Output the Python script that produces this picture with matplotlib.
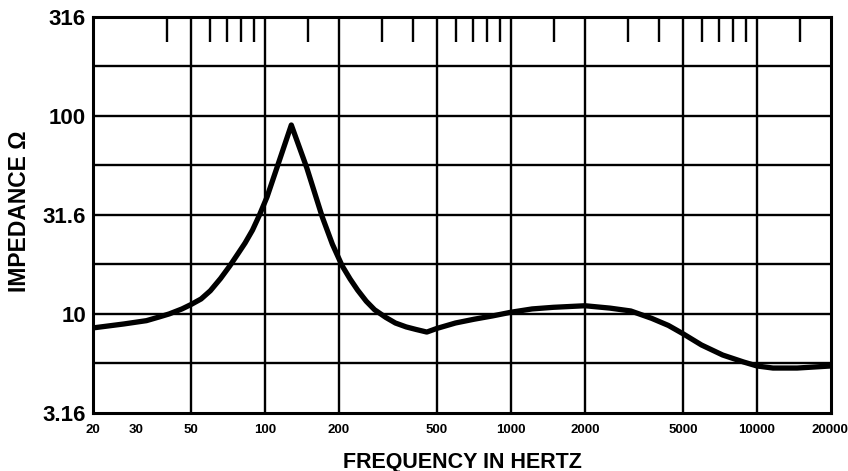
import matplotlib.pyplot as plt
from matplotlib.ticker import FixedLocator, NullFormatter
from matplotlib.transforms import ScaledTranslation

# impedance curve (Hz, ohms)
freq = [20, 26.7, 33, 37.1, 40.8, 46, 50, 55, 60, 66, 72, 78, 83, 89, 95, 102,
        112, 128, 148, 171, 188, 206, 222, 238, 258, 279, 310, 339, 375, 411,
        455, 500, 595, 707, 841, 1000, 1219, 1486, 2000, 2528, 3071, 3733,
        4364, 5000, 5950, 7259, 8818, 10000, 11620, 14560, 20000]
impedance = [8.5, 8.9, 9.25, 9.65, 10.0, 10.6, 11.15, 11.9, 13.1, 15.1, 17.5,
             20.3, 22.8, 26.5, 31.6, 39.0, 55.0, 90.0, 54.6, 30.9, 22.5, 17.5,
             15.0, 13.2, 11.6, 10.5, 9.6, 9.0, 8.6, 8.35, 8.1, 8.45, 9.0, 9.4,
             9.77, 10.2, 10.6, 10.8, 11.0, 10.7, 10.35, 9.5, 8.75, 7.95, 6.97,
             6.2, 5.72, 5.46, 5.33, 5.33, 5.46]

x_labels = [20, 30, 50, 100, 200, 500, 1000, 2000, 5000, 10000, 20000]
x_grid = [50, 100, 200, 500, 1000, 2000, 5000, 10000]
x_minor = [30, 40, 60, 70, 80, 90, 150, 300, 400, 600, 700, 800, 900, 1500,
           3000, 4000, 6000, 7000, 8000, 9000, 15000]
y_labels = [316, 100, 31.6, 10, 3.16]
y_label_text = ["316", "100", "31.6", "10", "3.16"]
y_grid = [178, 100, 56.2, 31.6, 17.8, 10, 5.62]

fig = plt.figure(figsize=(8.48, 4.71), dpi=100)
ax = fig.add_axes([93 / 848, 58 / 471, 738 / 848, 396 / 471])
ax.set_xscale("log")
ax.set_yscale("log")
ax.set_xlim(20, 20000)
ax.set_ylim(3.16, 316)

for x in x_grid:
    ax.axvline(x, color="black", lw=1.7, zorder=1)
for y in y_grid:
    ax.axhline(y, color="black", lw=1.7, zorder=1)

ax.plot(freq, impedance, color="black", lw=3.8, solid_joinstyle="round",
        solid_capstyle="round", zorder=3)

for s in ax.spines.values():
    s.set_linewidth(2.2)

ax.xaxis.set_major_locator(FixedLocator(x_labels))
ax.set_xticklabels([str(v) for v in x_labels], fontfamily="Liberation Sans",
                   fontweight="bold", fontsize=9.5)
ax.xaxis.set_minor_locator(FixedLocator(x_minor))
ax.xaxis.set_minor_formatter(NullFormatter())
ax.tick_params(axis="x", which="major", length=0, pad=8)
ax.tick_params(axis="x", which="minor", top=True, bottom=False, direction="in",
               length=18, width=1.7)
last = ax.get_xticklabels()[-1]
last.set_horizontalalignment("right")
last.set_transform(last.get_transform() + ScaledTranslation(0.17, 0, fig.dpi_scale_trans))

ax.yaxis.set_major_locator(FixedLocator(y_labels))
ax.yaxis.set_minor_locator(FixedLocator([]))
ax.set_yticklabels(y_label_text, fontfamily="Liberation Sans", fontweight="bold", fontsize=16)
ax.tick_params(axis="y", which="major", length=0, pad=5)

ax.set_xlabel("FREQUENCY IN HERTZ", fontfamily="Liberation Sans", fontweight="bold",
              fontsize=15.5, va="center")
ax.xaxis.set_label_coords(0.5, -0.124)
ax.set_ylabel("IMPEDANCE Ω", fontfamily="Liberation Sans", fontweight="bold",
              fontsize=16.5, va="center")
ax.yaxis.set_label_coords(-0.099, 0.509)

fig.savefig("out.png", dpi=100)
